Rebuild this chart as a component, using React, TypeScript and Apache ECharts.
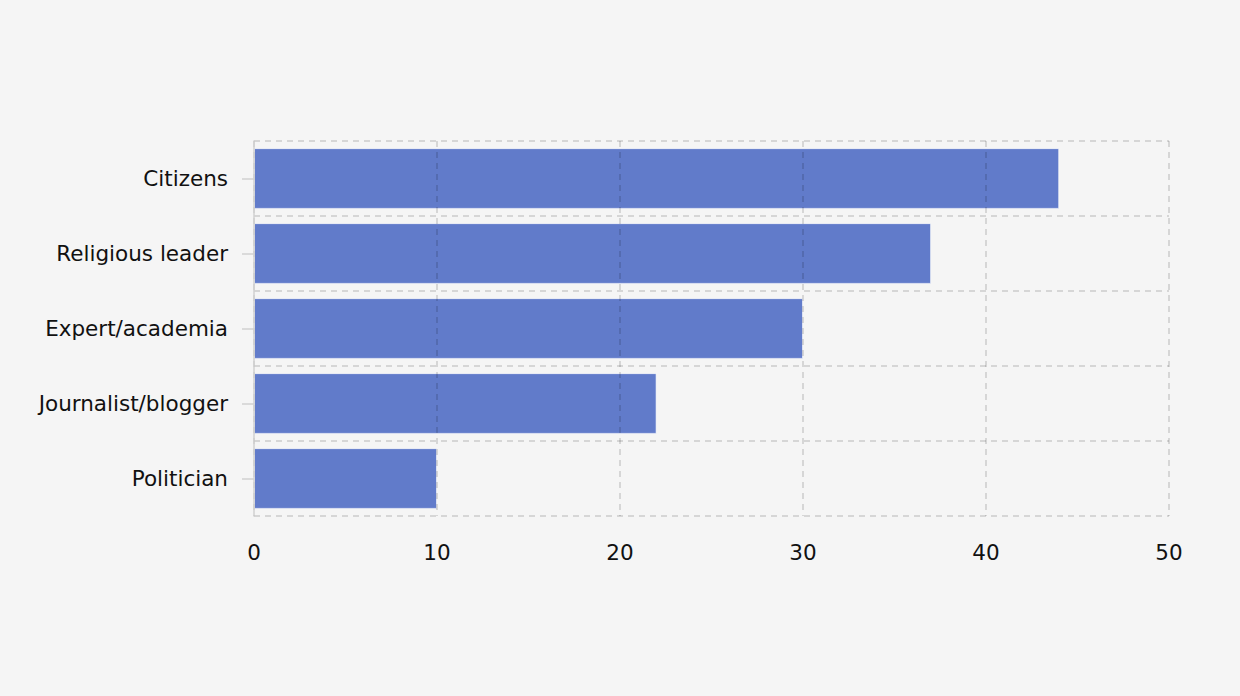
import React, { useEffect, useRef } from "react";
import * as echarts from "echarts";

const categories = ["Politician", "Journalist/blogger", "Expert/academia", "Religious leader", "Citizens"];
const values = [10, 22, 30, 37, 44];
const xTicks = [0, 10, 20, 30, 40, 50];

export default function App() {
  const ref = useRef<HTMLDivElement>(null);
  useEffect(() => {
    if (!ref.current) return;
    const chart = echarts.init(ref.current, undefined, { renderer: "svg" });
    chart.setOption({
      animation: false,
      backgroundColor: "#f5f5f5",
      textStyle: { fontFamily: "DejaVu Sans" },
      grid: { left: 254, right: 71, top: 141, bottom: 180, containLabel: false },
      xAxis: {
        type: "value",
        min: xTicks[0],
        max: xTicks[xTicks.length - 1],
        interval: 10,
        z: 5,
        axisLine: { show: false },
        axisTick: { show: false },
        axisLabel: { color: "#111", fontSize: 21.5, margin: 25, fontFamily: "DejaVu Sans" },
        splitLine: { show: true, lineStyle: { color: "rgba(0,0,0,0.17)", type: [6, 5], width: 1.5 } },
      },
      yAxis: {
        type: "category",
        data: categories,
        z: 5,
        axisLine: { show: true, lineStyle: { color: "#d0d0d0", width: 1.5 } },
        axisTick: { show: true, alignWithLabel: true, length: 12, lineStyle: { color: "#d0d0d0", width: 1.5 } },
        axisLabel: { color: "#111", fontSize: 21.5, margin: 26, fontFamily: "DejaVu Sans" },
        splitLine: { show: true, lineStyle: { color: "rgba(0,0,0,0.17)", type: [6, 5], width: 1.5 } },
      },
      series: [
        {
          type: "bar",
          data: values,
          z: 2,
          barCategoryGap: "19%",
          itemStyle: { color: "#617bca", borderColor: "rgba(255,255,255,0.6)", borderWidth: 1 },
        },
      ],
    });
    return () => chart.dispose();
  }, []);
  return <div ref={ref} style={{ width: 1240, height: 696, position: "absolute", left: 0, top: 0 }} />;
}
